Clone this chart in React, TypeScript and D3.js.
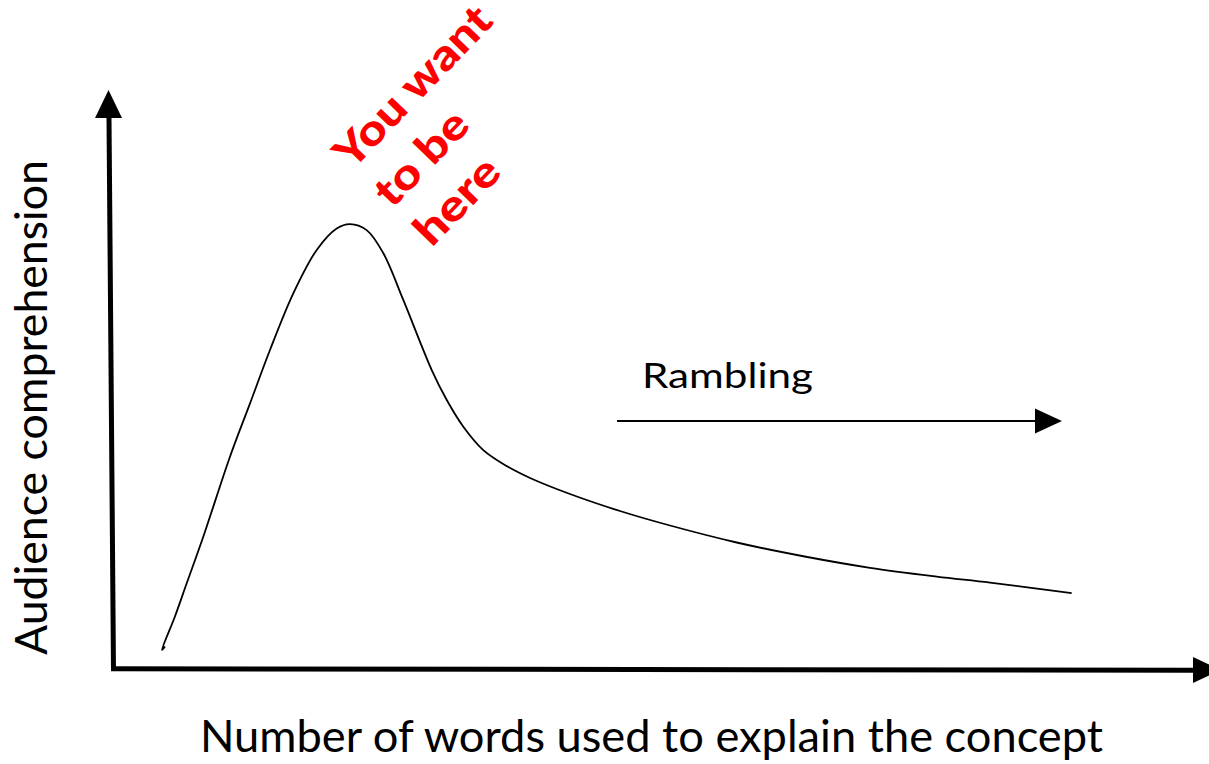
import React from 'react';
import * as d3 from 'd3';

// curve (x = words used, y = comprehension), both on 0-100
const words = [4.68, 4.4, 5.6, 6.67, 8.19, 10.64, 12.48, 14.31, 16.45, 18.6, 20.43, 21.65, 23.18, 24.71, 26.54, 29.15, 30.53, 32.05, 33.88, 36.02, 38.17, 41.83, 46.42, 51.01, 57.13, 63.24, 69.36, 75.48, 80.37, 87.86];
const comprehension = [4.09, 3.45, 9.6, 15.58, 24.05, 38.6, 48.3, 58.0, 68.3, 76.2, 80.1, 80.9, 79.8, 75.6, 67.1, 54.36, 48.91, 44.05, 39.8, 36.91, 34.73, 31.82, 28.73, 26.09, 23.0, 20.5, 18.4, 16.8, 15.7, 13.8];

const xLabel = 'Number of words used to explain the concept';
const yLabel = 'Audience comprehension';
const calloutLines = ['You want', 'to be', 'here'];
const ramblingLabel = 'Rambling';
// rambling arrow: start / end on the x scale, height on the y scale
const ramblingX = [46.15, 86.97];
const ramblingY = 45.1;

const W = 1209;
const H = 764;

const App = () => {
  const x = d3.scaleLinear().domain([0, 100]).range([114, 1204]);
  const y = d3.scaleLinear().domain([0, 100]).range([669, 119]);

  const pts: [number, number][] = words.map((w, i) => [w, comprehension[i]]);
  const line = d3
    .line<[number, number]>()
    .x(d => x(d[0]))
    .y(d => y(d[1]))
    .curve(d3.curveCatmullRom.alpha(0.5));

  const x0 = x(0);
  const y0 = y(0);
  const font = "Lato, 'Open Sans', sans-serif";

  const rx1 = x(ramblingX[0]);
  const rx2 = x(ramblingX[1]);
  const ry = y(ramblingY);

  return (
    <svg width={W} height={H} style={{ position: 'absolute', left: 0, top: 0, background: '#fff' }}>
      {/* axes */}
      <line x1={x0 - 0.5} y1={y0 + 2} x2={x0 - 5} y2={118} stroke="#000" strokeWidth={5} />
      <polygon points={`${x0 - 5.5},90 ${x0 - 19},118 ${x0 + 8},118`} fill="#000" />
      <line x1={x0 - 3} y1={y0 - 0.3} x2={1194} y2={y0 + 1.3} stroke="#000" strokeWidth={5} />
      <polygon points={`1193,657 1221,670 1193,683`} fill="#000" />

      {/* curve */}
      <path d={line(pts) || ''} fill="none" stroke="#000" strokeWidth={1.8} strokeLinejoin="round" />

      {/* rambling arrow */}
      <line x1={rx1} y1={ry} x2={rx2 - 26} y2={ry} stroke="#000" strokeWidth={2} />
      <polygon points={`${rx2 - 27},${ry - 12.5} ${rx2},${ry} ${rx2 - 27},${ry + 12.5}`} fill="#000" />
      <text x={642} y={388} fontFamily={font} fontSize={34} textLength={171} lengthAdjust="spacingAndGlyphs" fill="#000">
        {ramblingLabel}
      </text>

      {/* callout */}
      <g transform="translate(352,171) rotate(-46)">
        {calloutLines.map((t, i) => (
          <text
            key={t}
            x={0}
            y={i * 55.5}
            fontFamily={font}
            fontWeight={900}
            fontSize={43}
            fill="#ff0000"
            textLength={[206, 115, 103][i]}
            lengthAdjust="spacingAndGlyphs"
          >
            {t}
          </text>
        ))}
      </g>

      {/* axis labels */}
      <text x={651.5} y={752} textAnchor="middle" fontFamily={font} fontSize={45} textLength={903} lengthAdjust="spacingAndGlyphs" fill="#000">
        {xLabel}
      </text>
      <text
        transform="translate(47,407.5) rotate(-90)"
        textAnchor="middle"
        fontFamily={font}
        fontSize={45}
        textLength={495}
        lengthAdjust="spacingAndGlyphs"
        fill="#000"
      >
        {yLabel}
      </text>
    </svg>
  );
};

export default App;
